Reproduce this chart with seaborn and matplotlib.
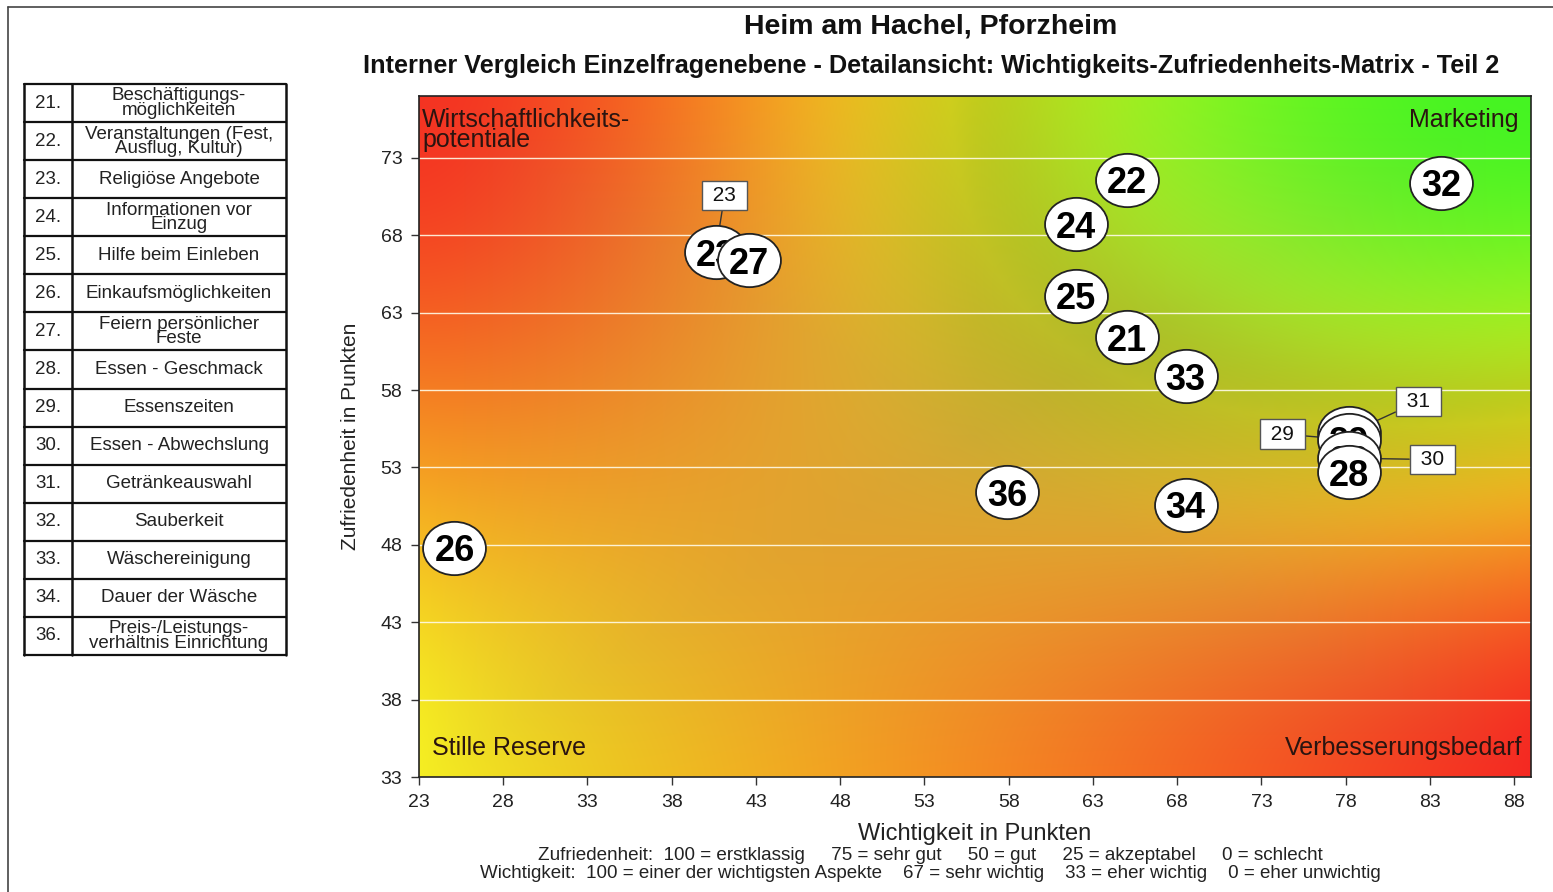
import numpy as np
import pandas as pd
import matplotlib
matplotlib.use("Agg")
import matplotlib.pyplot as plt
from matplotlib.colors import hsv_to_rgb
from matplotlib.path import Path
import seaborn as sns

# --- data ---
item_ids = ["21", "22", "23", "24", "25", "26", "27", "28", "29", "30", "31", "32", "33", "34", "36"]
wichtigkeit = [65.0, 65.0, 40.6, 62.0, 62.0, 25.1, 42.6, 78.2, 78.2, 78.2, 78.2, 83.65, 68.5, 68.5, 57.9]
zufriedenheit = [61.4, 71.6, 66.9, 68.7, 64.1, 47.8, 66.4, 52.7, 54.8, 53.6, 55.2, 71.4, 58.9, 50.6, 51.4]
# drawing order (back to front)
draw_order = ["21", "22", "24", "25", "26", "23", "27", "31", "29", "30", "28", "32", "33", "34", "36"]
callout_ids = ["23", "31", "29", "30"]

legend_nums = ["21.", "22.", "23.", "24.", "25.", "26.", "27.", "28.", "29.", "30.",
               "31.", "32.", "33.", "34.", "36."]
legend_texts = ["Beschäftigungs-\nmöglichkeiten", "Veranstaltungen (Fest,\nAusflug, Kultur)",
                "Religiöse Angebote", "Informationen vor\nEinzug", "Hilfe beim Einleben",
                "Einkaufsmöglichkeiten", "Feiern persönlicher\nFeste", "Essen - Geschmack",
                "Essenszeiten", "Essen - Abwechslung", "Getränkeauswahl", "Sauberkeit",
                "Wäschereinigung", "Dauer der Wäsche", "Preis-/Leistungs-\nverhältnis Einrichtung"]

x_ticks = list(range(23, 89, 5))
y_ticks = list(range(33, 74, 5))

df = pd.DataFrame({"id": item_ids, "x": wichtigkeit, "y": zufriedenheit}).set_index("id")

sns.set_style("ticks")
plt.rcParams["font.family"] = ["Liberation Sans", "DejaVu Sans"]

fig = plt.figure(figsize=(15.53, 8.92), dpi=100)
W, H = 1553, 892


def fx(px):
    return px / W


def fy(py):
    return 1 - py / H


ax = fig.add_axes([fx(419), fy(777), fx(1531) - fx(419), fy(96) - fy(777)])
ax.set_xlim(23, 89)
ax.set_ylim(33, 77)


def smooth(t):
    return 3 * t ** 2 - 2 * t ** 3


# background gradient: red top-left, green top-right, yellow bottom-left, red bottom-right
n = 300
u = np.linspace(0, 1, n)[None, :]
v = np.linspace(1, 0, n)[:, None]
hue_top = 5 + 105 * smooth(u) ** 0.85
hue_bot = 58 - 56 * u
hue = hue_top * smooth(v) + hue_bot * (1 - smooth(v))
edge = np.maximum(np.abs(u - 0.5), np.abs(v - 0.5)) * 2
sat = 0.76 + 0.1 * edge
val = 0.87 + 0.09 * edge
# tone down the bright yellow band in the upper/right part
val = val - 0.16 * np.exp(-((hue - 62) / 16) ** 2) * np.minimum(1, 2 * u)
sat, val = np.broadcast_to(sat, hue.shape), np.broadcast_to(val, hue.shape)
rgb = hsv_to_rgb(np.dstack([hue / 360, sat, val]))
ax.imshow(rgb, extent=[23, 89, 33, 77], aspect="auto", zorder=0, interpolation="bilinear")

for yt in y_ticks:
    ax.axhline(yt, color="#fffbe8", lw=1.0, alpha=0.9, zorder=1)

# ellipse marker
circ = Path.unit_circle()
ell = Path(circ.vertices * np.array([1.18, 1.0]), circ.codes)

for k, pid in enumerate(draw_order):
    row = df.loc[pid]
    z = 3 + k * 0.1
    sns.scatterplot(x=[row.x], y=[row.y], marker=ell, s=2050, color="white",
                    edgecolor="#222222", linewidth=1.3, ax=ax, zorder=z, legend=False)
    ax.text(row.x, row.y, pid, ha="center", va="center_baseline", fontsize=26,
            fontweight="bold", color="black", zorder=z + 0.05)

offsets = {"23": (6.5, 41), "31": (50, 23), "29": (-48, 4), "30": (60, -1)}
for pid in callout_ids:
    row = df.loc[pid]
    ax.annotate(" %s " % pid, xy=(row.x, row.y), xytext=offsets[pid], textcoords="offset points",
                ha="center", va="center", fontsize=15, zorder=2, color="#111111",
                bbox=dict(boxstyle="square,pad=0.25", fc="white", ec="#555555", lw=1),
                arrowprops=dict(arrowstyle="-", color="#333333", lw=1, shrinkA=0, shrinkB=0))

# quadrant labels
qc = "#2a1410"
ax.text(0.003, 0.982, "Wirtschaftlichkeits-\npotentiale", transform=ax.transAxes, ha="left",
        va="top", fontsize=18, color=qc, linespacing=0.8)
ax.text(0.989, 0.982, "Marketing", transform=ax.transAxes, ha="right", va="top",
        fontsize=18, color=qc)
ax.text(0.012, 0.025, "Stille Reserve", transform=ax.transAxes, ha="left", va="bottom",
        fontsize=18, color=qc)
ax.text(0.992, 0.025, "Verbesserungsbedarf", transform=ax.transAxes, ha="right",
        va="bottom", fontsize=18, color=qc)

ax.set_xticks(x_ticks)
ax.set_yticks(y_ticks)
ax.tick_params(labelsize=14, length=6, width=1, pad=6, colors="#333333", labelcolor="#222222")
for s in ax.spines.values():
    s.set_color("#222222")
    s.set_linewidth(1.2)
ax.set_xlabel("Wichtigkeit in Punkten", fontsize=17, labelpad=9, color="#222222")
ax.set_ylabel("Zufriedenheit in Punkten", fontsize=15, labelpad=15, color="#222222")

# titles and footer
fig.text(fx(931), fy(27), "Heim am Hachel, Pforzheim", ha="center", va="center",
         fontsize=20.5, fontweight="bold", color="#111111")
fig.text(fx(931), fy(66),
         "Interner Vergleich Einzelfragenebene - Detailansicht: Wichtigkeits-Zufriedenheits-Matrix - Teil 2",
         ha="center", va="center", fontsize=18.2, fontweight="bold", color="#111111")
fig.text(fx(930), fy(855),
         "Zufriedenheit:  100 = erstklassig     75 = sehr gut     50 = gut     25 = akzeptabel     0 = schlecht",
         ha="center", va="center", fontsize=13.6, color="#222222")
fig.text(fx(930), fy(873),
         "Wichtigkeit:  100 = einer der wichtigsten Aspekte    67 = sehr wichtig    33 = eher wichtig    0 = eher unwichtig",
         ha="center", va="center", fontsize=13.5, color="#222222")

# outer frame (left and top visible)
fig.add_artist(plt.Line2D([fx(8), fx(8)], [fy(7), 0], color="#444444", lw=1.2))
fig.add_artist(plt.Line2D([fx(8), 1], [fy(7), fy(7)], color="#444444", lw=1.2))

# legend table
lax = fig.add_axes([fx(24), fy(655), fx(286) - fx(24), fy(84) - fy(655)])
lax.set_xlim(0, 262)
lax.set_ylim(len(legend_nums), 0)
lax.axis("off")
for i, (num, txt) in enumerate(zip(legend_nums, legend_texts)):
    lax.text(24, i + 0.5, num, ha="center", va="center", fontsize=13.5, color="#222222")
    lax.text(155, i + 0.5, txt, ha="center", va="center", fontsize=13.5, color="#222222",
             linespacing=0.78)
for i in range(len(legend_nums) + 1):
    lax.axhline(i, color="#111111", lw=1.6, clip_on=False)
for xv in (0, 48, 262):
    lax.axvline(xv, color="#111111", lw=1.8, clip_on=False)

fig.savefig("out.png", dpi=100, facecolor="white")
